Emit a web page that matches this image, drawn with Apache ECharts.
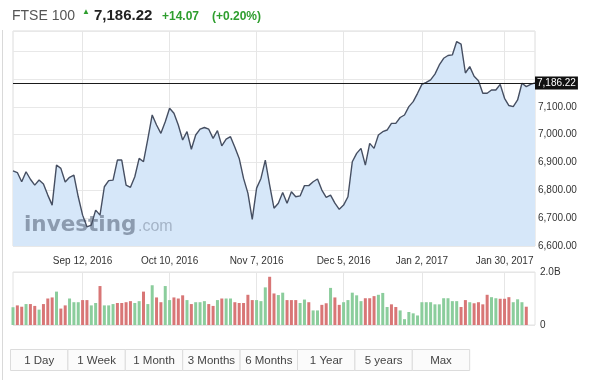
<!DOCTYPE html>
<html><head><meta charset="utf-8">
<script src="https://cdn.jsdelivr.net/npm/echarts@6/dist/echarts.min.js"></script>
<style>html,body{margin:0;padding:0;background:#fff}#c{width:600px;height:380px}</style>
</head><body><div id="c"></div>
<script>
// ---- data ----
const startDate = '2016-08-18';
const endDate = '2017-02-08';
const holidays = ['2016-08-29', '2016-12-26', '2016-12-27', '2017-01-02'];
const tickDates = ['2016-09-12', '2016-10-10', '2016-11-07', '2016-12-05', '2017-01-02', '2017-01-30'];
const tickTexts = ['Sep 12, 2016', 'Oct 10, 2016', 'Nov 7, 2016', 'Dec 5, 2016', 'Jan 2, 2017', 'Jan 30, 2017'];
const price = [
  6870, 6864, 6831, 6867, 6840, 6819, 6837, 6823, 6783, 6747,
  6891, 6879, 6830, 6847, 6855, 6777, 6711, 6669, 6675, 6729,
  6711, 6813, 6835, 6837, 6909, 6909, 6819, 6811, 6849, 6915,
  6903, 6985, 7071, 7035, 7005, 7047, 7095, 7077, 7035, 6981,
  7011, 6948, 6999, 7020, 7026, 7020, 6987, 7015, 6960, 6984,
  6993, 6955, 6915, 6843, 6790, 6696, 6808, 6843, 6909, 6819,
  6736, 6754, 6792, 6754, 6795, 6777, 6780, 6817, 6817, 6831,
  6841, 6801, 6775, 6783, 6754, 6732, 6747, 6777, 6903, 6933,
  6951, 6891, 6969, 6951, 6999, 7011, 7017, 7041, 7041, 7062,
  7071, 7101, 7119, 7149, 7181, 7188, 7197, 7218, 7251, 7275,
  7285, 7287, 7335, 7326, 7222, 7245, 7210, 7194, 7149, 7149,
  7161, 7161, 7181, 7131, 7105, 7101, 7125, 7185, 7173, 7181, 7186.22
];
const volume = [
  0.67, 0.74, 0.69, 0.79, 0.79, 0.72, 0.58, 0.79, 1.00, 1.04,
  1.26, 0.62, 0.74, 1.00, 0.86, 0.86, 0.94, 0.94, 0.74, 0.83,
  1.47, 0.74, 0.74, 0.79, 0.83, 0.83, 0.86, 0.90, 0.83, 0.90,
  1.26, 0.79, 1.50, 1.04, 0.86, 1.47, 0.94, 1.04, 1.00, 1.12,
  0.94, 0.79, 0.86, 0.86, 0.90, 0.79, 0.72, 0.94, 1.00, 1.00,
  1.00, 0.86, 0.83, 0.83, 1.14, 0.94, 0.94, 0.90, 1.42, 1.82,
  1.19, 1.13, 1.22, 0.94, 0.94, 0.94, 0.83, 0.96, 0.86, 0.55,
  0.55, 0.76, 0.82, 1.40, 1.04, 0.76, 0.86, 0.94, 1.22, 1.12,
  0.90, 1.01, 1.01, 1.09, 1.14, 1.21, 0.68, 0.78, 0.68, 0.55,
  0.22, 0.49, 0.44, 0.36, 0.86, 0.86, 0.86, 0.78, 0.78, 1.01,
  1.01, 0.90, 0.90, 0.68, 0.94, 0.86, 0.82, 0.86, 0.78, 1.14,
  1.05, 1.01, 0.99, 0.99, 1.05, 0.86, 0.97, 0.86, 0.69, null, null
];
// u = green (up) bar, d = red (down) bar
const direction = [
  'uddudduddd', 'udduuudduu', 'duuudddduu', 'duudduuddd',
  'uduuuddudu', 'uddddduuud', 'duuddduudu', 'uddudduuuu',
  'uddduuuddu', 'uuuuuuuuuu', 'uuuddudddd', 'uuddduuuduu'
].join('').split('');
const lastPrice = 7186.22;
const changeText = '+14.07';
const changePctText = '(+0.20%)';
const titleText = 'FTSE 100';
const volMaxLabel = 2;
const buttons = ['1 Day', '1 Week', '1 Month', '3 Months', '6 Months', '1 Year', '5 years', 'Max'];

// ---- helpers ----
function tradingDays() {
  const out = [];
  const d = new Date(startDate + 'T00:00:00Z');
  const end = new Date(endDate + 'T00:00:00Z');
  while (d <= end) {
    const w = d.getUTCDay();
    const s = d.toISOString().slice(0, 10);
    if (w !== 0 && w !== 6 && !holidays.includes(s)) out.push(s);
    d.setUTCDate(d.getUTCDate() + 1);
  }
  return out;
}
const dates = tradingDays();
const tickIndex = {};
tickDates.forEach((t, k) => { const i = dates.findIndex(d => d >= t); tickIndex[i] = tickTexts[k]; });
const isTick = (i) => tickIndex[i] !== undefined;
const fmt = (v) => v.toLocaleString('en-US', { minimumFractionDigits: 2, maximumFractionDigits: 2 });

const GREEN = '#8bcd9c', RED = '#d87676', UPC = '#2e9e2e';
const FONT = "Arial, 'Liberation Sans', sans-serif";

const graphics = [
  { type: 'line', shape: { x1: 2.5, y1: 30, x2: 2.5, y2: 380 }, style: { stroke: '#d9d9d9', lineWidth: 1 } },
  { type: 'text', x: 12, y: 16, style: { text: titleText, font: '14px ' + FONT, fill: '#555', verticalAlign: 'middle' } },
  { type: 'text', x: 82, y: 12, style: { text: '▲', font: '8px ' + FONT, fill: UPC, verticalAlign: 'middle' } },
  { type: 'text', x: 94, y: 16, style: { text: fmt(lastPrice), font: 'bold 15px ' + FONT, fill: '#222', verticalAlign: 'middle' } },
  { type: 'text', x: 162, y: 16.5, style: { text: changeText, font: 'bold 12px ' + FONT, fill: UPC, verticalAlign: 'middle' } },
  { type: 'text', x: 212, y: 16.5, style: { text: changePctText, font: 'bold 12px ' + FONT, fill: UPC, verticalAlign: 'middle' } },
  { type: 'text', x: 24, y: 225, z: 3, style: { text: 'investing', font: "bold 21.5px 'DejaVu Sans', sans-serif", fill: 'rgba(105,120,140,0.68)', verticalAlign: 'middle' } },
  { type: 'text', x: 138, y: 227, z: 3, style: { text: '.com', font: '16px ' + FONT, fill: 'rgba(115,130,150,0.5)', verticalAlign: 'middle' } }
];
const bx0 = 10, bw = 57.4, by = 349, bh = 21;
buttons.forEach((b, k) => {
  graphics.push({ type: 'rect', shape: { x: bx0 + k * bw + 0.5, y: by + 0.5, width: bw, height: bh }, style: { fill: '#fbfbfb', stroke: '#dcdcdc', lineWidth: 1 } });
  graphics.push({ type: 'text', x: bx0 + k * bw + bw / 2 + 0.5, y: by + bh / 2 + 1, style: { text: b, font: "11.5px 'Liberation Sans Narrow', 'Arial Narrow', " + FONT, fill: '#444', align: 'center', verticalAlign: 'middle' } });
});

const chart = echarts.init(document.getElementById('c'), null, { renderer: 'canvas' });
chart.setOption({
  animation: false,
  textStyle: { fontFamily: FONT },
  grid: [
    { left: 13, right: 65, top: 31, bottom: 134, show: true, borderColor: '#dcdcdc', borderWidth: 1 },
    { left: 13, right: 65, top: 272, bottom: 55, show: true, borderColor: '#e2e2e2', borderWidth: 1 }
  ],
  xAxis: [
    {
      type: 'category', gridIndex: 0, data: dates, boundaryGap: false,
      axisLine: { show: false }, axisTick: { show: false },
      axisLabel: { interval: (i) => isTick(i), formatter: (v, i) => tickIndex[i] || '', color: '#333', fontSize: 10, margin: 10 },
      splitLine: { show: true, interval: (i) => isTick(i), lineStyle: { color: '#e6e6e6' } }
    },
    {
      type: 'category', gridIndex: 1, data: dates, boundaryGap: false,
      axisLine: { show: false }, axisTick: { show: false }, axisLabel: { show: false },
      splitLine: { show: true, interval: (i) => isTick(i), lineStyle: { color: '#e6e6e6' } }
    }
  ],
  yAxis: [
    {
      type: 'value', gridIndex: 0, position: 'right', min: 6600, max: 7373, interval: 100,
      axisLine: { show: false }, axisTick: { show: false },
      axisLabel: { formatter: (v) => (v > 7100 ? '' : fmt(v)), color: '#333', fontSize: 10, margin: 3 },
      splitLine: { lineStyle: { color: '#e8e8e8' } }
    },
    {
      type: 'value', gridIndex: 1, position: 'right', min: 0, max: volMaxLabel, interval: volMaxLabel,
      axisLine: { show: false }, axisTick: { show: false },
      axisLabel: { formatter: (v) => (v === 0 ? '0' : v.toFixed(1) + 'B'), color: '#333', fontSize: 10, margin: 5 },
      splitLine: { lineStyle: { color: '#e6e6e6' } }
    }
  ],
  series: [
    {
      type: 'line', xAxisIndex: 0, yAxisIndex: 0, data: price, symbol: 'none', silent: true, z: 2,
      lineStyle: { width: 0 }, areaStyle: { color: '#d6e7f9', opacity: 1 }
    },
    {
      type: 'line', xAxisIndex: 0, yAxisIndex: 0, data: price, symbol: 'none', silent: true, z: 4,
      lineStyle: { color: '#464f62', width: 1.4 },
      markLine: {
        symbol: 'none', silent: true, animation: false,
        lineStyle: { color: '#1a1a1a', width: 1, type: 'solid' },
        label: { position: 'end', distance: 0, formatter: () => fmt(lastPrice), backgroundColor: '#111', color: '#fff', padding: [2, 2, 1, 2], fontSize: 10 },
        data: [{ yAxis: lastPrice }]
      }
    },
    {
      type: 'bar', xAxisIndex: 1, yAxisIndex: 1, barWidth: 3, clip: false, silent: true,
      data: volume.map((v, i) => ({ value: v, itemStyle: { color: direction[i] === 'u' ? GREEN : RED } }))
    }
  ],
  graphic: graphics
});
</script>
</body></html>
